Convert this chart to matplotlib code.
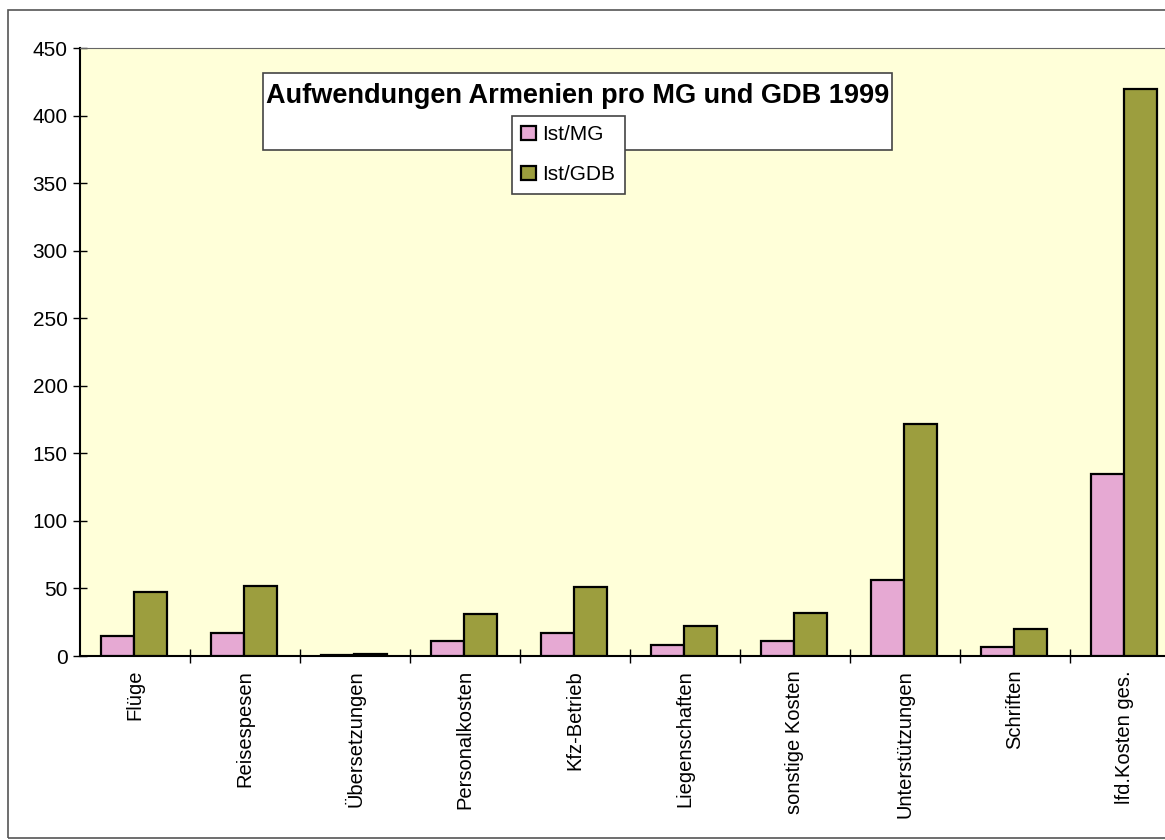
import matplotlib.pyplot as plt
import numpy as np
from matplotlib.patches import Rectangle

plt.rcParams['font.family'] = ['Liberation Sans', 'DejaVu Sans']

kategorien = ['Flüge', 'Reisespesen', 'Übersetzungen', 'Personalkosten', 'Kfz-Betrieb',
              'Liegenschaften', 'sonstige Kosten', 'Unterstützungen', 'Schriften',
              'lfd.Kosten ges.']
ist_mg = [15, 17, 0.8, 11, 17, 8, 11, 56, 7, 135]
ist_gdb = [47, 52, 1.2, 31, 51, 22, 32, 172, 20, 420]
y_ticks = [0, 50, 100, 150, 200, 250, 300, 350, 400, 450]

W, H = 1165, 840
fig = plt.figure(figsize=(W / 100, H / 100), dpi=100)

# outer frame of the chart object (right edge is cut off)
fig.patches.append(Rectangle((8 / W, 1 - 838 / H), (1200 - 8) / W, (838 - 10) / H,
                             transform=fig.transFigure, fill=False,
                             edgecolor='#555555', linewidth=1.2))

ax = fig.add_axes([80 / W, 1 - 656 / H, (1180 - 80) / W, 608 / H])
ax.set_facecolor('#FFFFD9')

x = np.arange(len(kategorien))
bw = 0.3
ax.bar(x - 0.16, ist_mg, bw, color='#E6A9D3', edgecolor='black', linewidth=1.6,
       label='Ist/MG', zorder=3)
ax.bar(x + 0.14, ist_gdb, bw, color='#9C9E3E', edgecolor='black', linewidth=1.6,
       label='Ist/GDB', zorder=3)

ax.set_xlim(-0.5, len(kategorien) - 0.5)
ax.set_ylim(0, 450)
ax.set_yticks(y_ticks)
ax.tick_params(axis='y', labelsize=15, direction='inout', length=10, width=1, pad=4)

ax.set_xticks(x)
ax.set_xticklabels(kategorien, rotation=90, fontsize=14.5)
ax.tick_params(axis='x', length=0, pad=10)
ax.set_xticks(np.arange(len(kategorien)) + 0.5, minor=True)
ax.tick_params(axis='x', which='minor', direction='inout', length=10, width=1)

for s in ['left', 'bottom']:
    ax.spines[s].set_linewidth(1.5)
ax.spines['top'].set_color('#666666')
ax.spines['right'].set_visible(False)

# title box
ax.add_patch(Rectangle((263 / W, 1 - 150 / H), (892 - 263) / W, (150 - 73) / H,
                       transform=fig.transFigure, facecolor='white',
                       edgecolor='#444444', linewidth=1.2, zorder=5, clip_on=False))
ax.text(578 / W, 1 - 96 / H, 'Aufwendungen Armenien pro MG und GDB 1999',
        transform=fig.transFigure, ha='center', va='center', fontsize=19.5,
        fontweight='bold', zorder=6)

leg = ax.legend(loc='upper left', bbox_to_anchor=(512 / W, 1 - 116 / H),
                bbox_transform=fig.transFigure, fontsize=15, frameon=True,
                fancybox=False, edgecolor='#444444', framealpha=1,
                handlelength=0.7, handleheight=0.7, handletextpad=0.3,
                labelspacing=1.0, borderpad=0.45, borderaxespad=0)
leg.get_frame().set_linewidth(1.2)
leg.set_zorder(7)

fig.savefig('out.png', dpi=100)
